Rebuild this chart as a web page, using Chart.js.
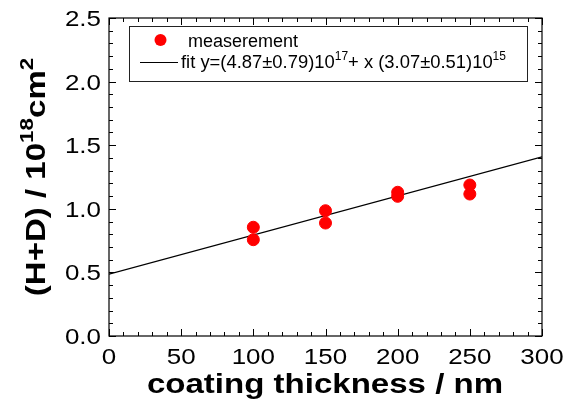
<!DOCTYPE html>
<html>
<head>
<meta charset="utf-8">
<script src="https://cdn.jsdelivr.net/npm/chart.js@4.4.1/dist/chart.umd.min.js"></script>
<style>
  html, body { margin: 0; padding: 0; background: #fff; }
</style>
</head>
<body>
<canvas id="chart" width="566" height="404"></canvas>
<script>
"use strict";

// ======================================================================
// Data
//
const thickness = [100, 100, 150, 150, 200, 200, 250, 250];
const hdAmount = [0.855, 0.757, 0.985, 0.888, 1.13, 1.098, 1.187, 1.116];

const fitX = [0, 300];
const fitY = [0.487, 1.408];

const xTicks = [0, 50, 100, 150, 200, 250, 300];
const yTicks = [0.0, 0.5, 1.0, 1.5, 2.0, 2.5];

const FONT = '"Liberation Sans", Arial, Helvetica, sans-serif';
const STRETCH = 1.18; // the original lettering is a bit wider than Arial

// ======================================================================
// Helpers
//
function drawRich(ctx, parts, x, y, size, supSize, weight) {
    let cx = x;
    parts.forEach(p => {
        ctx.font = `${weight} ${p.sup ? supSize : size}px ${FONT}`;
        ctx.fillText(p.t, cx, p.sup ? y - size * 0.42 : y);
        cx += ctx.measureText(p.t).width;
    });
    return cx - x;
}

function measureRich(ctx, parts, size, supSize, weight) {
    let w = 0;
    parts.forEach(p => {
        ctx.font = `${weight} ${p.sup ? supSize : size}px ${FONT}`;
        w += ctx.measureText(p.t).width;
    });
    return w;
}

function wideText(ctx, text, x, y, align, sx) {
    ctx.save();
    ctx.translate(x, y);
    ctx.scale(sx, 1);
    ctx.textAlign = align;
    ctx.fillText(text, 0, 0);
    ctx.restore();
}

// ======================================================================
// Frame, ticks, labels, titles, legend
//
const decorations = {
    id: 'decorations',
    afterDraw(chart) {
        const { ctx, chartArea: a, scales: { x, y } } = chart;
        ctx.save();

        // frame
        ctx.strokeStyle = '#000';
        ctx.lineWidth = 1.2;
        ctx.strokeRect(a.left, a.top, a.right - a.left, a.bottom - a.top);

        // ticks (inward, mirrored)
        ctx.lineWidth = 1;
        ctx.beginPath();
        for (let v = 0; v <= 300; v += 10) {
            const px = Math.round(x.getPixelForValue(v)) + 0.5;
            const len = v % 50 === 0 ? 7 : 4;
            ctx.moveTo(px, a.bottom); ctx.lineTo(px, a.bottom - len);
            ctx.moveTo(px, a.top); ctx.lineTo(px, a.top + len);
        }
        for (let i = 0; i <= 25; i++) {
            const py = Math.round(y.getPixelForValue(i / 10)) + 0.5;
            const len = i % 5 === 0 ? 7 : 4;
            ctx.moveTo(a.left, py); ctx.lineTo(a.left + len, py);
            ctx.moveTo(a.right, py); ctx.lineTo(a.right - len, py);
        }
        ctx.stroke();

        // tick labels
        ctx.fillStyle = '#000';
        ctx.textBaseline = 'alphabetic';
        ctx.font = `22px ${FONT}`;
        xTicks.forEach(v => wideText(ctx, String(v), x.getPixelForValue(v), 363.5, 'center', STRETCH));
        yTicks.forEach(v => wideText(ctx, v.toFixed(1), 101, y.getPixelForValue(v) + 8, 'right', STRETCH));

        // axis titles
        ctx.font = `bold 28px ${FONT}`;
        wideText(ctx, 'coating thickness / nm', 325, 393, 'center', STRETCH);

        const yTitle = [
            { t: '(H+D) / 10' }, { t: '18', sup: true }, { t: 'cm' }, { t: '2', sup: true }
        ];
        ctx.textAlign = 'left';
        const tw = measureRich(ctx, yTitle, 28, 19, 'bold');
        ctx.save();
        ctx.translate(45, 177);
        ctx.rotate(-Math.PI / 2);
        ctx.scale(STRETCH, 1);
        drawRich(ctx, yTitle, -tw / 2, 0, 28, 19, 'bold');
        ctx.restore();

        // legend
        ctx.lineWidth = 1;
        ctx.strokeStyle = '#222';
        ctx.strokeRect(129.5, 26.5, 398, 55);

        ctx.fillStyle = '#ff0000';
        ctx.beginPath();
        ctx.arc(160.5, 40, 6, 0, Math.PI * 2);
        ctx.fill();

        ctx.fillStyle = '#000';
        ctx.font = `18px ${FONT}`;
        ctx.fillText('measerement', 188, 46.5);

        ctx.strokeStyle = '#000';
        ctx.lineWidth = 1.2;
        ctx.beginPath();
        ctx.moveTo(140, 62.5); ctx.lineTo(178, 62.5);
        ctx.stroke();

        drawRich(ctx, [
            { t: 'fit y=(4.87\u00b10.79)10' }, { t: '17', sup: true },
            { t: '+ x (3.07\u00b10.51)10' }, { t: '15', sup: true }
        ], 181, 68, 18.4, 12, 'normal');

        ctx.restore();
    }
};

// ======================================================================
// Chart
//
new Chart(document.getElementById('chart'), {
    type: 'scatter',
    data: {
        datasets: [
            {
                label: 'measerement',
                data: thickness.map((t, i) => ({ x: t, y: hdAmount[i] })),
                backgroundColor: '#ff0000',
                borderColor: '#ff0000',
                pointRadius: 6,
                pointHoverRadius: 6,
                order: 1
            },
            {
                label: 'fit',
                type: 'line',
                data: fitX.map((t, i) => ({ x: t, y: fitY[i] })),
                borderColor: '#000',
                borderWidth: 1.3,
                pointRadius: 0,
                fill: false,
                order: 2
            }
        ]
    },
    options: {
        responsive: false,
        animation: false,
        layout: { padding: { top: 18, right: 24, left: 0, bottom: 0 } },
        plugins: {
            legend: { display: false },
            tooltip: { enabled: false }
        },
        scales: {
            x: {
                type: 'linear',
                min: 0,
                max: 300,
                afterBuildTicks: s => { s.ticks = xTicks.map(v => ({ value: v })); },
                afterFit: s => { s.height = 68; },
                grid: { display: false, drawTicks: false },
                border: { display: false },
                ticks: { display: false }
            },
            y: {
                type: 'linear',
                min: 0,
                max: 2.5,
                afterBuildTicks: s => { s.ticks = yTicks.map(v => ({ value: v })); },
                afterFit: s => { s.width = 109; },
                grid: { display: false, drawTicks: false },
                border: { display: false },
                ticks: { display: false }
            }
        }
    },
    plugins: [decorations]
});
</script>
</body>
</html>
